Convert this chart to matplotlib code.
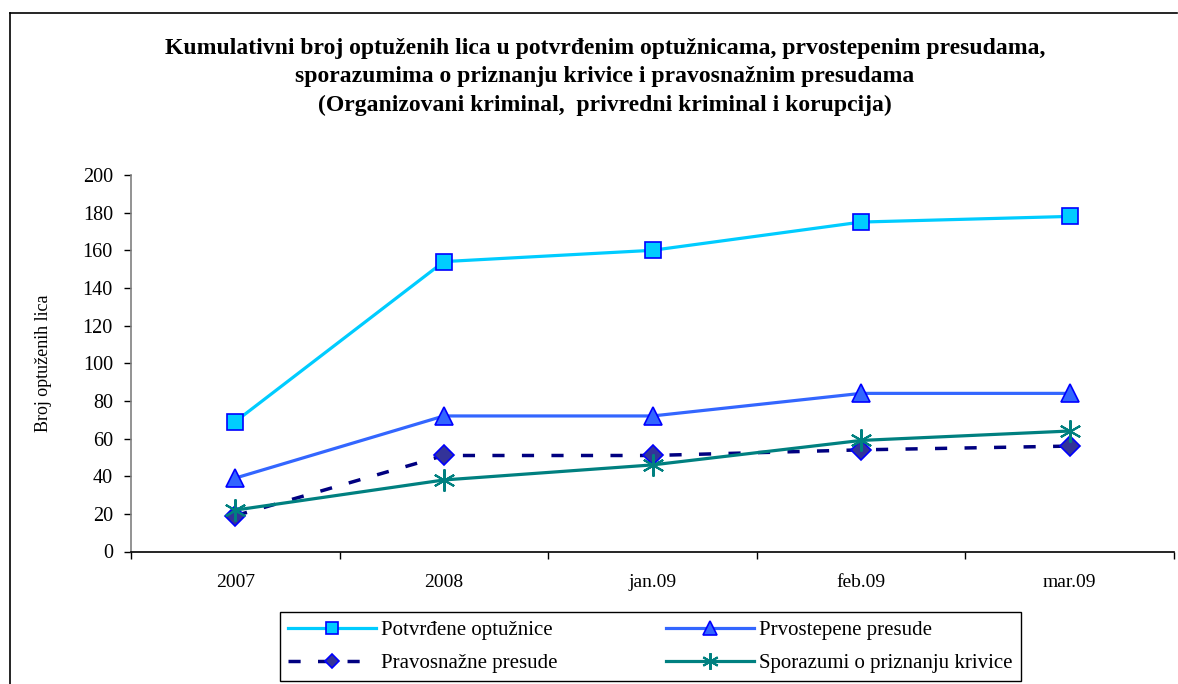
import matplotlib
matplotlib.use("Agg")
import matplotlib.pyplot as plt
from matplotlib.lines import Line2D

categories = ["2007", "2008", "jan.09", "feb.09", "mar.09"]
potvrdene = [69, 154, 160, 175, 178]
prvostepene = [39, 72, 72, 84, 84]
pravosnazne = [19, 51, 51, 54, 56]
sporazumi = [22, 38, 46, 59, 64]
yticks = [0, 20, 40, 60, 80, 100, 120, 140, 160, 180, 200]

title = ("Kumulativni broj optuženih lica u potvrđenim optužnicama, prvostepenim presudama,\n"
         "sporazumima o priznanju krivice i pravosnažnim presudama\n"
         "(Organizovani kriminal,  privredni kriminal i korupcija)")

plt.rcParams['font.family'] = ['Liberation Serif', 'DejaVu Serif']

W, H = 1178, 684
fig = plt.figure(figsize=(W/100, H/100), dpi=100)

# outer chart frame
fig.add_artist(Line2D([10/W, 10/W], [0, 1-13/H], transform=fig.transFigure, color='black', lw=1.2))
fig.add_artist(Line2D([10/W, 1177/W], [1-13/H, 1-13/H], transform=fig.transFigure, color='black', lw=1.2))

ax = fig.add_axes([131/W, 1-551.5/H, (1174-131)/W, (551.5-175)/H])
x = list(range(len(categories)))

l1, = ax.plot(x, potvrdene, color='#00CCFF', lw=2.3, marker='s', ms=12,
              mfc='#00CCFF', mec='#0000FF', mew=1.2, label='Potvrđene optužnice', zorder=3)
l2, = ax.plot(x, prvostepene, color='#3366FF', lw=2.3, marker='^', ms=13,
              mfc='#3366FF', mec='#0000FF', mew=1.2, label='Prvostepene presude', zorder=3)
l3, = ax.plot(x, pravosnazne, color='#000080', lw=2.5, ls=(0, (3.5, 5)), marker='D', ms=10,
              mfc='#333399', mec='#0000FF', mew=1.2, label='Pravosnažne presude', zorder=3)
l4, = ax.plot(x, sporazumi, color='#008080', lw=2.3, marker=(6, 2, 0), ms=16,
              mec='#008080', mew=1.5, label='Sporazumi o priznanju krivice', zorder=4)

ax.set_xlim(-0.5, len(categories) - 0.5)
ax.set_ylim(0, 200)
ax.set_yticks(yticks)
ax.set_yticklabels([str(v) for v in yticks], fontsize=14.5)
ax.set_xticks(x)
ax.set_xticklabels(categories, fontsize=14)
ax.set_xticks([i + 0.5 for i in range(-1, len(categories))], minor=True)
ax.tick_params(axis='x', which='major', length=0, pad=16)
ax.tick_params(axis='x', which='minor', length=5, width=1, direction='out')
ax.tick_params(axis='y', length=5, width=1, direction='out', pad=8)
ax.spines['top'].set_visible(False)
ax.spines['right'].set_visible(False)
ax.spines['left'].set_color('#808080')
ax.spines['left'].set_linewidth(1.2)
ax.spines['bottom'].set_color('black')
ax.spines['bottom'].set_linewidth(1.2)
ax.set_ylabel('Broj optuženih lica', fontsize=13)
ax.yaxis.set_label_coords(-(131-52)/(1174-131), 0.5)

fig.text(605/W, 1-38/H, title, ha='center', va='top', fontsize=17,
         fontweight='bold', linespacing=1.45)

leg = ax.legend([l1, l3, l2, l4], [l.get_label() for l in (l1, l3, l2, l4)],
                loc='upper left', bbox_to_anchor=(280/W, 1-679/H, (1021-280)/W, (679-612)/H),
                bbox_transform=fig.transFigure, ncol=2, mode='expand', fontsize=15,
                handlelength=4.2, handletextpad=0.25, borderaxespad=0, borderpad=0.4,
                labelspacing=0.65, fancybox=False, edgecolor='black', framealpha=1,
                markerscale=0.75)
leg.get_frame().set_linewidth(1.0)

fig.savefig('out.png', dpi=100)
